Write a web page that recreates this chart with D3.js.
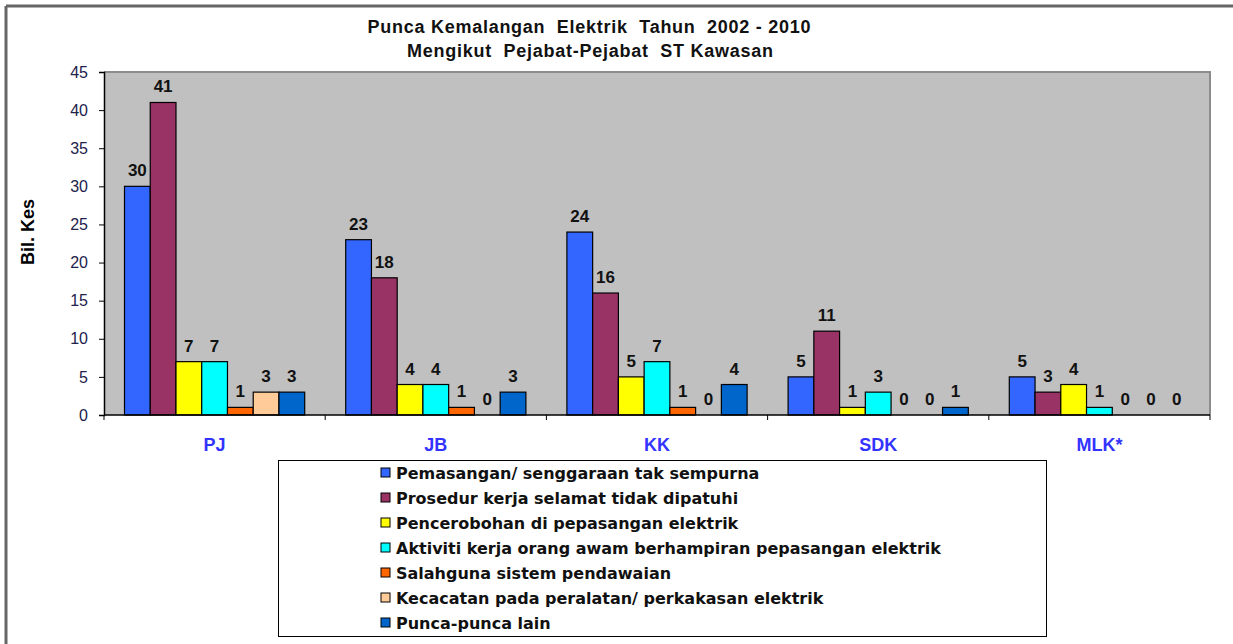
<!DOCTYPE html>
<html>
<head>
<meta charset="UTF-8">
<script src="https://d3js.org/d3.v7.min.js"></script>
<style>
    body { margin: 0; background: #fff; }
    svg text { font-family: Arial, 'Liberation Sans', sans-serif; }
    .legend text { font-family: 'DejaVu Sans', sans-serif; }
</style>
</head>
<body>
<svg id="chart" width="1233" height="644"></svg>
<script>
// data
var offices = ["PJ", "JB", "KK", "SDK", "MLK*"];
var causes = [
    "Pemasangan/ senggaraan tak sempurna",
    "Prosedur kerja selamat tidak dipatuhi",
    "Pencerobohan di pepasangan elektrik",
    "Aktiviti kerja orang awam berhampiran pepasangan elektrik",
    "Salahguna sistem pendawaian",
    "Kecacatan pada peralatan/ perkakasan elektrik",
    "Punca-punca lain"
];
var pemasangan = [30, 23, 24, 5, 5];
var prosedur = [41, 18, 16, 11, 3];
var pencerobohan = [7, 4, 5, 1, 4];
var aktiviti = [7, 4, 7, 3, 1];
var salahguna = [1, 1, 1, 0, 0];
var kecacatan = [3, 0, 0, 0, 0];
var lain = [3, 3, 4, 1, 0];
var yTicks = [0, 5, 10, 15, 20, 25, 30, 35, 40, 45];

var series = [pemasangan, prosedur, pencerobohan, aktiviti, salahguna, kecacatan, lain];
var colors = ["#3366FF", "#993366", "#FFFF00", "#00FFFF", "#FF6600", "#FFCC99", "#0066CC"];

var svg = d3.select("#chart");

// outer frame (top and left only)
svg.append("line").attr("x1", 6).attr("x2", 1233).attr("y1", 6).attr("y2", 6)
    .attr("stroke", "#666").attr("stroke-width", 3);
svg.append("line").attr("x1", 6).attr("x2", 6).attr("y1", 6).attr("y2", 644)
    .attr("stroke", "#666").attr("stroke-width", 3);

var plotLeft = 104, plotRight = 1210, plotTop = 72, plotBottom = 415;

var x = d3.scaleBand().domain(offices).range([plotLeft, plotRight]);
var inner = d3.scaleBand().domain(d3.range(series.length))
    .range([20.5, x.bandwidth() - 20.5]);
var y = d3.scaleLinear().domain([0, 45]).range([plotBottom, plotTop]);

// plot area
svg.append("rect").attr("x", plotLeft).attr("y", plotTop)
    .attr("width", plotRight - plotLeft).attr("height", plotBottom - plotTop)
    .attr("fill", "#C0C0C0");
svg.append("path")
    .attr("d", "M" + plotLeft + "," + plotTop + "H" + plotRight + "V" + plotBottom)
    .attr("fill", "none").attr("stroke", "#8c8c8c").attr("stroke-width", 2);

// bars
series.forEach(function (vals, s) {
    var g = svg.append("g");
    g.selectAll("rect")
        .data(vals)
        .enter()
        .append("rect")
        .attr("x", function (d, i) { return x(offices[i]) + inner(s); })
        .attr("y", function (d) { return y(d); })
        .attr("width", inner.bandwidth())
        .attr("height", function (d) { return y(0) - y(d); })
        .attr("fill", colors[s])
        .attr("stroke", "#000")
        .attr("stroke-width", 1.2);

    g.selectAll("text")
        .data(vals)
        .enter()
        .append("text")
        .attr("x", function (d, i) { return x(offices[i]) + inner(s) + inner.bandwidth() / 2; })
        .attr("y", function (d) { return y(d) - 10; })
        .attr("text-anchor", "middle")
        .attr("font-size", "17px")
        .attr("font-weight", "bold")
        .attr("fill", "#111")
        .text(function (d) { return d; });
});

// y axis
var yAxis = d3.axisLeft(y).tickValues(yTicks).tickSize(5).tickPadding(11);
var ya = svg.append("g").attr("transform", "translate(" + plotLeft + ",0)").call(yAxis);
ya.select(".domain").attr("stroke", "#000").attr("stroke-width", 1.5);
ya.selectAll(".tick line").attr("stroke", "#000");
ya.selectAll(".tick text").attr("font-size", "16px").attr("fill", "#22224a")
    .style("font-family", "Arial, 'Liberation Sans', sans-serif");

// x axis with ticks between categories
var xa = svg.append("g").attr("transform", "translate(0," + plotBottom + ")");
xa.append("line").attr("x1", plotLeft).attr("x2", plotRight).attr("y1", 0).attr("y2", 0)
    .attr("stroke", "#000").attr("stroke-width", 1.5);
xa.selectAll(".sep")
    .data(offices.concat(["end"]))
    .enter()
    .append("line")
    .attr("x1", function (d, i) { return plotLeft + i * x.bandwidth(); })
    .attr("x2", function (d, i) { return plotLeft + i * x.bandwidth(); })
    .attr("y1", 0).attr("y2", 5)
    .attr("stroke", "#000");
xa.selectAll(".cat")
    .data(offices)
    .enter()
    .append("text")
    .attr("x", function (d) { return x(d) + x.bandwidth() / 2; })
    .attr("y", 36)
    .attr("text-anchor", "middle")
    .attr("font-size", "18px")
    .attr("font-weight", "bold")
    .attr("fill", "#3333FF")
    .text(function (d) { return d; });

// y axis title
svg.append("text")
    .attr("transform", "translate(34,232) rotate(-90)")
    .attr("text-anchor", "middle")
    .attr("font-size", "18px")
    .attr("font-weight", "bold")
    .text("Bil. Kes");

// title
var title = svg.append("text").attr("text-anchor", "middle")
    .attr("font-size", "18px").attr("font-weight", "bold").attr("fill", "#111");
title.append("tspan").attr("x", 589).attr("y", 33).attr("xml:space", "preserve")
    .attr("textLength", 443)
    .text("Punca Kemalangan  Elektrik  Tahun  2002 - 2010");
title.append("tspan").attr("x", 590).attr("y", 57).attr("xml:space", "preserve")
    .attr("textLength", 366)
    .text("Mengikut  Pejabat-Pejabat  ST Kawasan");

// legend
svg.append("rect").attr("x", 278.5).attr("y", 460.5).attr("width", 768).attr("height", 176)
    .attr("fill", "#fff").attr("stroke", "#000").attr("stroke-width", 1);
var legend = svg.append("g").attr("class", "legend").selectAll("g")
    .data(causes)
    .enter()
    .append("g")
    .attr("transform", function (d, i) { return "translate(381," + (473 + i * 25) + ")"; });
legend.append("rect")
    .attr("x", 0).attr("y", -5).attr("width", 9).attr("height", 9)
    .attr("fill", function (d, i) { return colors[i]; })
    .attr("stroke", "#000").attr("stroke-width", 1);
legend.append("text")
    .attr("x", 15).attr("y", 5.5)
    .attr("font-size", "16px")
    .attr("font-weight", "bold")
    .attr("fill", "#111")
    .text(function (d) { return d; });
</script>
</body>
</html>
